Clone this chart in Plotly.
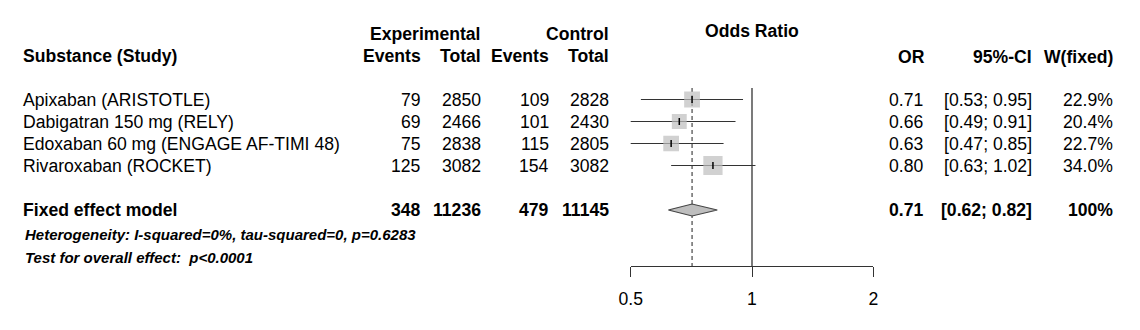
import plotly.graph_objects as go
import math

# ---- data ----
studies = ["Apixaban (ARISTOTLE)", "Dabigatran 150 mg (RELY)",
           "Edoxaban 60 mg (ENGAGE AF-TIMI 48)", "Rivaroxaban (ROCKET)"]
events_e = [79, 69, 75, 125]
total_e = [2850, 2466, 2838, 3082]
events_c = [109, 101, 115, 154]
total_c = [2828, 2430, 2805, 3082]
odds_ratio = [0.71, 0.66, 0.63, 0.80]
ci_lower = [0.53, 0.49, 0.47, 0.63]
ci_upper = [0.95, 0.91, 0.85, 1.02]
weights = [22.9, 20.4, 22.7, 34.0]

pooled_label = "Fixed effect model"
pooled_events_e, pooled_total_e = 348, 11236
pooled_events_c, pooled_total_c = 479, 11145
pooled_or, pooled_lo, pooled_hi = 0.71, 0.62, 0.82
pooled_weight = "100%"

heterogeneity = "Heterogeneity: I-squared=0%, tau-squared=0, p=0.6283"
overall_test = "Test for overall effect:  p<0.0001"

tick_vals = [0.5, 1, 2]
tick_text = ["0.5", "1", "2"]

# ---- layout helpers ----
W, H = 1140, 330
FONT = "Liberation Sans, Arial, sans-serif"
FS = 17.6
row_y = [99.5 + 22 * i for i in range(len(studies))]
pooled_y = 210
line_top, axis_y = 88, 266
GRAY = "#BEBEBE"
DARK = "#333333"

fig = go.Figure()

# reference line at 1 and dashed pooled line
fig.add_trace(go.Scatter(x=[1, 1], y=[line_top, axis_y], mode="lines",
                         line=dict(color=DARK, width=1.3), hoverinfo="skip"))
fig.add_trace(go.Scatter(x=[pooled_or, pooled_or], y=[line_top, axis_y], mode="lines",
                         line=dict(color=DARK, width=1.1, dash="4px,3px"), hoverinfo="skip"))

# CI lines
cx, cy = [], []
for lo, hi, y in zip(ci_lower, ci_upper, row_y):
    cx += [lo, hi, None]
    cy += [y, y, None]
fig.add_trace(go.Scatter(x=cx, y=cy, mode="lines", line=dict(color=DARK, width=1.2),
                         hoverinfo="skip"))

# squares
fig.add_trace(go.Scatter(x=odds_ratio, y=row_y, mode="markers",
                         marker=dict(symbol="square", color=GRAY,
                                     size=[3.3 * math.sqrt(w) for w in weights],
                                     line=dict(width=0)), hoverinfo="skip"))
# point tick
fig.add_trace(go.Scatter(x=odds_ratio, y=row_y, mode="markers",
                         marker=dict(symbol="line-ns", size=5,
                                     line=dict(color="black", width=1.5)), hoverinfo="skip"))

# diamond
fig.add_trace(go.Scatter(x=[pooled_lo, pooled_or, pooled_hi, pooled_or, pooled_lo],
                         y=[pooled_y, pooled_y - 6, pooled_y, pooled_y + 6, pooled_y],
                         mode="lines", fill="toself", fillcolor=GRAY,
                         line=dict(color="#444444", width=1.2), hoverinfo="skip"))

annotations = []


def txt(x, y, s, anchor="right", bold=False, italic=False, size=FS):
    t = s
    if bold:
        t = "<b>" + t + "</b>"
    if italic:
        t = "<i>" + t + "</i>"
    annotations.append(dict(x=x / W, y=y, xref="paper", yref="y", text=t,
                            showarrow=False, xanchor=anchor, yanchor="middle",
                            align=anchor if anchor != "center" else "center",
                            font=dict(family=FONT, size=size, color="black"),
                            borderpad=0))


# headers
txt(22, 56, "Substance (Study)", "left", bold=True)
txt(482, 34, "Experimental", bold=True)
txt(610, 34, "Control", bold=True)
txt(422, 56, "Events", bold=True)
txt(482, 56, "Total", bold=True)
txt(550, 56, "Events", bold=True)
txt(610, 56, "Total", bold=True)
txt(752, 31, "Odds Ratio", "center", bold=True)
txt(926, 57, "OR", bold=True)
txt(1033, 57, "95%-CI", bold=True)
txt(1114, 57, "W(fixed)", bold=True)

for i, y in enumerate(row_y):
    txt(22, y, studies[i], "left")
    txt(422, y, str(events_e[i]))
    txt(482, y, str(total_e[i]))
    txt(550, y, str(events_c[i]))
    txt(610, y, str(total_c[i]))
    txt(924, y, f"{odds_ratio[i]:.2f}")
    txt(1033, y, f"[{ci_lower[i]:.2f}; {ci_upper[i]:.2f}]")
    txt(1114, y, f"{weights[i]:.1f}%")

txt(22, pooled_y, pooled_label, "left", bold=True)
txt(422, pooled_y, str(pooled_events_e), bold=True)
txt(482, pooled_y, str(pooled_total_e), bold=True)
txt(550, pooled_y, str(pooled_events_c), bold=True)
txt(610, pooled_y, str(pooled_total_c), bold=True)
txt(924, pooled_y, f"{pooled_or:.2f}", bold=True)
txt(1033, pooled_y, f"[{pooled_lo:.2f}; {pooled_hi:.2f}]", bold=True)
txt(1114, pooled_y, pooled_weight, bold=True)

txt(24, 234, heterogeneity, "left", bold=True, italic=True, size=15)
txt(24, 257, overall_test, "left", bold=True, italic=True, size=15)

fig.update_layout(
    template="none",
    width=W, height=H, margin=dict(l=0, r=0, t=0, b=0, pad=0, autoexpand=False),
    paper_bgcolor="white", plot_bgcolor="white", showlegend=False,
    annotations=annotations,
    xaxis=dict(type="log", range=[math.log10(0.5), math.log10(2)],
               domain=[630.7 / W, 873.3 / W], anchor="free", automargin=False,
               position=1 - axis_y / H, showgrid=False, zeroline=False,
               showline=True, linecolor=DARK, linewidth=1.3,
               ticks="outside", ticklen=10, tickcolor=DARK, tickwidth=1.3,
               tickvals=tick_vals, ticktext=tick_text, ticklabelstandoff=7,
               tickfont=dict(family=FONT, size=FS, color="black"),
               fixedrange=True),
    yaxis=dict(range=[H, 0], domain=[0, 1], visible=False, fixedrange=True,
               automargin=False),
)

fig.write_html("out.html")
